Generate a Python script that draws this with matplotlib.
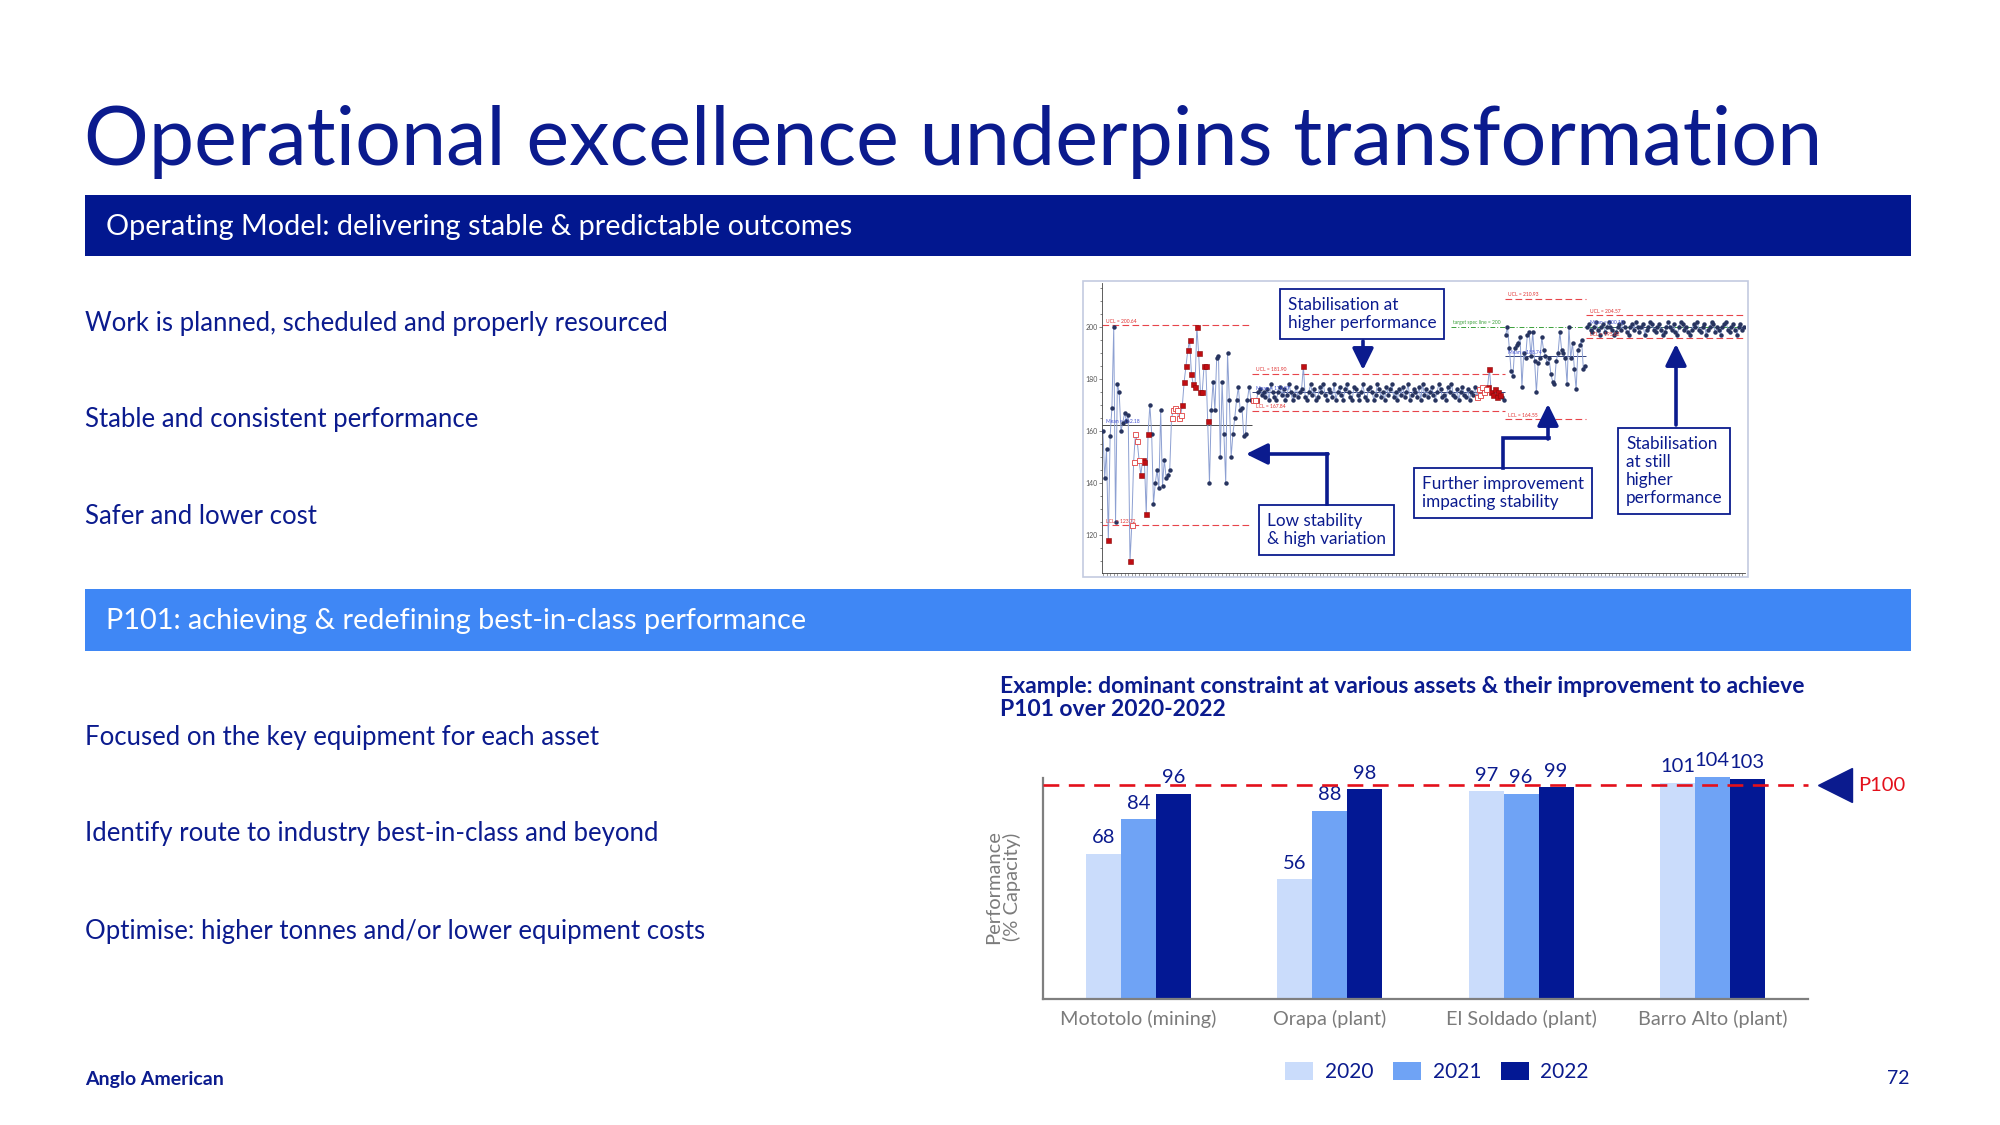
import numpy as np
import matplotlib
matplotlib.use("Agg")
import matplotlib.pyplot as plt
from matplotlib.patches import Rectangle, FancyArrowPatch
from matplotlib.lines import Line2D
from matplotlib import transforms
from matplotlib.ticker import MultipleLocator

plt.rcParams['font.family'] = ['Lato', 'DejaVu Sans']

NAVY = '#0b1b8e'
BAND_DARK = '#02178f'
BAND_LIGHT = '#3f87f5'
GREY = '#7b7b7b'
RED = '#e3101b'
C2020, C2021, C2022 = '#cadcfb', '#6fa3f5', '#031894'

# --- bar chart data ---
assets = ['Mototolo (mining)', 'Orapa (plant)', 'El Soldado (plant)', 'Barro Alto (plant)']
years = ['2020', '2021', '2022']
perf_2020 = [68, 56, 97, 101]
perf_2021 = [84, 88, 96, 104]
perf_2022 = [96, 98, 99, 103]
p100 = 100

bullets_top = ['Work is planned, scheduled and properly resourced',
               'Stable and consistent performance',
               'Safer and lower cost']
bullets_bottom = ['Focused on the key equipment for each asset',
                  'Identify route to industry best-in-class and beyond',
                  'Optimise: higher tonnes and/or lower equipment costs']

# --- control chart data (process trace) ---
seg1 = [160, 142, 153, 118, 158, 169, 200, 125, 178, 175, 160, 163, 167, 164, 166, 110,
        124, 148, 159, 156, 149, 143, 149, 148, 128, 159, 170, 159, 132, 140, 145, 138,
        168, 139, 149, 142, 143, 145, 165, 168, 169, 168, 165, 166, 170, 179, 185, 191,
        195, 182, 178, 177, 200, 190, 175, 175, 185, 185, 164, 140, 168, 179, 168, 188,
        189, 150, 179, 159, 140, 190, 172, 150, 159, 165, 172, 177, 168, 169, 158, 159,
        172, 177, 172]
seg2 = [172, 172, 172, 175, 176, 174, 175, 173, 176, 172, 178, 175, 173, 172, 175, 177, 174, 176, 172, 174,
        178, 175, 172, 174, 177, 173, 175, 176, 185, 173, 172, 175, 178, 174, 176, 172, 173, 177, 175, 178,
        174, 172, 176, 175, 173, 178, 172, 175, 177, 174, 172, 176, 178, 175, 173, 172, 177, 176, 174, 172,
        175, 178, 173, 172, 176, 177, 175, 172, 174, 178, 176, 173, 175, 172, 177, 174, 176, 178, 173, 175,
        172, 176, 174, 177, 173, 175, 178, 172, 174, 176, 175, 173, 177, 172, 178, 174, 176, 173, 175, 177,
        174, 172, 175, 178, 176, 173, 174, 172, 177, 175, 178, 174, 173, 176, 172, 175, 177, 174, 173, 176,
        172, 175, 174, 177, 173, 176, 174, 177, 175, 176, 177, 184, 175, 174, 176, 173, 175, 174, 173, 172]
seg3 = [197, 200, 192, 183, 181, 192, 193, 194, 196, 177, 190, 188, 197, 198, 189, 198, 187, 175,
        186, 188, 196, 191, 189, 186, 188, 182, 179, 178, 187, 190, 198, 191, 190, 188, 178, 200,
        188, 194, 184, 176, 191, 193, 195, 184, 185]
seg4 = [200, 201, 199, 198, 200, 202, 199, 197, 200, 201, 198, 200, 202, 200, 199, 197, 198, 200, 201, 199,
        202, 200, 198, 197, 200, 201, 199, 202, 200, 198, 200, 201, 197, 199, 200, 202, 201, 199, 198, 200,
        201, 199, 197, 198, 200, 202, 200, 199, 201, 198, 197, 200, 202, 201, 199, 200, 198, 197, 199, 201,
        200, 202, 199, 198, 200, 201, 197, 199, 200, 202, 201, 198, 200, 199, 197, 200, 201, 202, 199, 198,
        200, 201, 199, 197, 200, 201, 199, 200]
segments = [seg1, seg2, seg3, seg4]
red_pts = [[3, 15, 21, 22, 23, 24, 25] + list(range(44, 59)), [2, 28] + list(range(130, 138)), [], []]
open_pts = [list(range(16, 21)) + list(range(38, 44)), [0, 1] + list(range(124, 130)), [], []]
ucl = [200.64, 181.90, 210.93, 204.57]
mean = [162.18, 174.87, 188.74, 200.10]
lcl = [123.72, 167.84, 164.55, 195.62]
target = 200

W, H = 2000, 1125
fig = plt.figure(figsize=(20, 11.25), dpi=100)


def fx(x):
    return x / W


def fy(y):
    return 1 - y / H


# ---------------- slide furniture ----------------
fig.text(fx(84), fy(165), 'Operational excellence underpins transformation', color=NAVY,
         fontsize=58.3, fontweight='normal', va='baseline', ha='left')

fig.add_artist(Rectangle((fx(85), fy(256)), fx(1911 - 85), 61 / H, transform=fig.transFigure,
                         color=BAND_DARK, lw=0))
fig.text(fx(106), fy(227), 'Operating Model: delivering stable & predictable outcomes', color='white',
         fontsize=20.8, va='center', ha='left')
fig.add_artist(Rectangle((fx(85), fy(651)), fx(1911 - 85), 62 / H, transform=fig.transFigure,
                         color=BAND_LIGHT, lw=0))
fig.text(fx(106), fy(621), 'P101: achieving & redefining best-in-class performance', color='white',
         fontsize=20.8, va='center', ha='left')

for txt, y in zip(bullets_top, [323, 420, 517]):
    fig.text(fx(85), fy(y), txt, color=NAVY, fontsize=18.5, va='center', ha='left')
for txt, y in zip(bullets_bottom, [737, 834, 931]):
    fig.text(fx(85), fy(y), txt, color=NAVY, fontsize=18.5, va='center', ha='left')

fig.text(fx(85), fy(1079), 'Anglo American', color=NAVY, fontsize=14, fontweight='bold',
         va='center', ha='left')
fig.text(fx(1909), fy(1079), '72', color=NAVY, fontsize=14, va='center', ha='right')

# ---------------- control chart (top right) ----------------
fig.add_artist(Rectangle((fx(1083), fy(577)), fx(1748 - 1083), 296 / H, transform=fig.transFigure,
                         fill=False, ec='#c3cbe0', lw=1.2))
cc = fig.add_axes([fx(1102), fy(573), fx(1745 - 1102), (573 - 283) / H])
start = 0
for i, seg in enumerate(segments):
    n = len(seg)
    xs = np.arange(start, start + n)
    vals = np.array(seg, dtype=float)
    cc.plot(xs, vals, color='#8da0d2', lw=0.7, zorder=2)
    normal = [k for k in range(n) if k not in red_pts[i] and k not in open_pts[i]]
    cc.plot(xs[normal], vals[normal], 'o', ms=2.2, color='#27345f', zorder=3)
    if red_pts[i]:
        cc.plot(xs[red_pts[i]], vals[red_pts[i]], 's', ms=3.6, mfc='#c00d12', mec='#8a0a0a',
                mew=0.4, zorder=4)
    if open_pts[i]:
        cc.plot(xs[open_pts[i]], vals[open_pts[i]], 's', ms=3.6, mfc='white', mec='#e04040',
                mew=0.6, zorder=4)
    x0, x1 = start - 0.5, start + n - 0.5
    cc.hlines([ucl[i], lcl[i]], x0, x1, colors='#e8454a', linestyles=(0, (6, 3)), lw=0.8, zorder=1)
    cc.hlines(mean[i], x0, x1, colors='#4a4a4a' if i == 0 else '#30407a', lw=0.7, zorder=1)
    cc.text(x0 + 2, ucl[i] + 0.6, f'UCL = {ucl[i]:.2f}', color='#e03030', fontsize=3.6, va='bottom')
    cc.text(x0 + 2, lcl[i] + 0.6, f'LCL = {lcl[i]:.2f}', color='#e03030', fontsize=3.6, va='bottom')
    cc.text(x0 + 2, mean[i] + 0.6, f'Mean = {mean[i]:.2f}', color='#4050d0', fontsize=3.6, va='bottom')
    start += n
n1, n2 = len(seg1), len(seg2)
cc.hlines(target, n1 + n2 - 30, start, colors='#3aa03a', linestyles=(0, (5, 2, 1, 2)), lw=0.7, zorder=1)
cc.text(n1 + n2 - 29, target + 0.6, 'target spec line = 200', color='#3aa03a', fontsize=3.6, va='bottom')
cc.set_xlim(-0.5, start - 0.5)
cc.set_ylim(105.4, 216.9)
cc.yaxis.set_major_locator(MultipleLocator(20))
cc.yaxis.set_minor_locator(MultipleLocator(5))
cc.xaxis.set_minor_locator(MultipleLocator(2))
cc.xaxis.set_major_locator(MultipleLocator(10))
cc.set_xticklabels([])
cc.tick_params(axis='y', labelsize=5, colors='#555555', length=2, width=0.5, pad=1)
cc.tick_params(axis='y', which='minor', length=1.2, width=0.5, colors='#555555')
cc.tick_params(axis='x', which='both', length=2, width=0.4, colors='#555555')
for s in ['top', 'right']:
    cc.spines[s].set_visible(False)
for s in ['left', 'bottom']:
    cc.spines[s].set_linewidth(0.6)
    cc.spines[s].set_color('#444444')
cc.set_facecolor('none')

box_kw = dict(boxstyle='square,pad=0.45', fc='white', ec=NAVY, lw=1.3)
notes = [('Stabilisation at\nhigher performance', 1288, 314),
         ('Low stability\n& high variation', 1267, 530),
         ('Further improvement\nimpacting stability', 1422, 493),
         ('Stabilisation\nat still\nhigher\nperformance', 1626, 471)]
for txt, x, y in notes:
    fig.text(fx(x), fy(y), txt, color=NAVY, fontsize=12.3, va='center', ha='left',
             linespacing=1.15, bbox=box_kw, zorder=6)

arrow_kw = dict(arrowstyle='-|>,head_width=0.32,head_length=0.65', mutation_scale=20, lw=2.6,
                color=NAVY, shrinkA=0, shrinkB=0, transform=fig.transFigure, zorder=7)
fig.add_artist(FancyArrowPatch((fx(1363), fy(341)), (fx(1363), fy(370)), **arrow_kw))
fig.add_artist(Line2D([fx(1327), fx(1327)], [fy(504), fy(454)], color=NAVY, lw=2.6,
                      transform=fig.transFigure, zorder=7))
fig.add_artist(FancyArrowPatch((fx(1328), fy(454)), (fx(1246), fy(454)), **arrow_kw))
fig.add_artist(Line2D([fx(1503), fx(1503), fx(1549)], [fy(468), fy(438), fy(438)], color=NAVY, lw=2.6,
                      transform=fig.transFigure, zorder=7, solid_joinstyle='miter'))
fig.add_artist(FancyArrowPatch((fx(1548), fy(439)), (fx(1548), fy(404)), **arrow_kw))
fig.add_artist(FancyArrowPatch((fx(1676), fy(425)), (fx(1676), fy(344)), **arrow_kw))

# ---------------- bar chart (bottom right) ----------------
fig.text(fx(1000), fy(698), 'Example: dominant constraint at various assets & their improvement to achieve\n'
         'P101 over 2020-2022', color=NAVY, fontsize=16.5, fontweight='bold', va='center', ha='left',
         linespacing=1.15)

ax = fig.add_axes([fx(1043), fy(999), fx(1808 - 1043), (999 - 778) / H])
x = np.arange(len(assets))
w = 0.183
series = [perf_2020, perf_2021, perf_2022]
colors = [C2020, C2021, C2022]
handles = []
for k, (vals, col) in enumerate(zip(series, colors)):
    bars = ax.bar(x + (k - 1) * w, vals, w, color=col, clip_on=False, zorder=2)
    handles.append(bars)
    for xi, v in zip(x + (k - 1) * w, vals):
        ax.annotate(str(v), (xi, v), xytext=(0, 11.5), textcoords='offset points', ha='center',
                    va='center', fontsize=14.5, color=NAVY, annotation_clip=False)
ax.axhline(p100, color=RED, ls=(0, (6, 3.6)), lw=1.9, zorder=3, clip_on=False)
ax.set_xlim(-0.5, 3.5)
ax.set_ylim(0, 103.3)
ax.set_xticks(x, assets)
ax.set_yticks([])
ax.tick_params(axis='x', length=0, pad=8, labelsize=14.3, labelcolor=GREY)
for s in ['top', 'right']:
    ax.spines[s].set_visible(False)
for s in ['left', 'bottom']:
    ax.spines[s].set_color('#7f7f7f')
    ax.spines[s].set_linewidth(1.6)

blend = transforms.blended_transform_factory(ax.transAxes, ax.transData)
ax.plot([1.0355], [p100], marker='<', ms=24, color=NAVY, transform=blend, clip_on=False)
ax.text(1.066, p100, 'P100', color=RED, fontsize=14.5, va='center', ha='left', transform=blend)

fig.text(fx(1003), fy(887), 'Performance\n(% Capacity)', rotation=90, color=GREY, fontsize=14.5,
         ha='center', va='center', linespacing=1.1)

ax.legend(handles, years, loc='center', bbox_to_anchor=(fx(1437), fy(1072)),
          bbox_transform=fig.transFigure, ncol=3, frameon=False, fontsize=15, labelcolor=NAVY,
          handlelength=1.35, handleheight=1.0, handletextpad=0.55, columnspacing=0.95)

fig.savefig('out.png', dpi=100, facecolor='white')
